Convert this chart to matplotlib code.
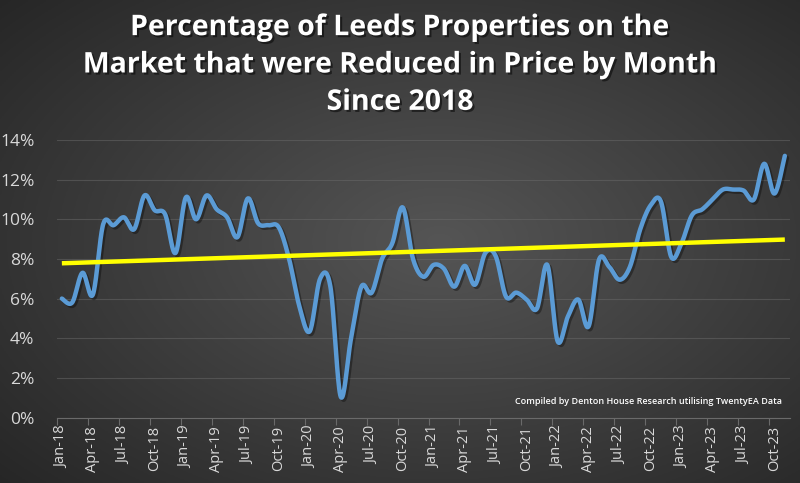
import numpy as np
import matplotlib
matplotlib.use("Agg")
import matplotlib.pyplot as plt
import matplotlib.patheffects as pe

# ---- data ----
years = ["18", "19", "20", "21", "22", "23"]
month_names = ["Jan", "Feb", "Mar", "Apr", "May", "Jun", "Jul", "Aug", "Sep", "Oct", "Nov", "Dec"]
categories = [f"{m}-{y}" for y in years for m in month_names][:71]  # Jan-18 .. Nov-23

reduced_pct = [
    6.0, 5.8, 7.3, 6.2, 9.75, 9.7, 10.1, 9.5, 11.2, 10.45, 10.25, 8.3,      # 2018
    11.1, 10.0, 11.2, 10.5, 10.1, 9.1, 11.05, 9.8, 9.7, 9.6, 8.0, 5.6,      # 2019
    4.35, 7.0, 6.6, 1.05, 4.0, 6.6, 6.3, 8.0, 8.8, 10.6, 8.0, 7.1,          # 2020
    7.7, 7.5, 6.6, 7.65, 6.7, 8.3, 8.15, 6.1, 6.3, 5.95, 5.5, 7.7,          # 2021
    3.85, 5.1, 5.95, 4.6, 7.95, 7.6, 6.95, 7.6, 9.5, 10.7, 10.9, 8.1,       # 2022
    8.8, 10.2, 10.5, 11.0, 11.5, 11.5, 11.45, 11.0, 12.8, 11.3, 13.2,       # 2023
]

y_ticks = [0, 2, 4, 6, 8, 10, 12, 14]
title = "Percentage of Leeds Properties on the\nMarket that were Reduced in Price by Month\nSince 2018"
source_note = "Compiled by Denton House Research utilising TwentyEA Data"


def smooth_curve(x, y, n=20):
    """Catmull-Rom style smoothing similar to Excel's smoothed line."""
    x = np.asarray(x, float)
    y = np.asarray(y, float)
    xs, ys = [], []
    for i in range(len(x) - 1):
        p0 = (x[i - 1], y[i - 1]) if i > 0 else (x[i], y[i])
        p1 = (x[i], y[i])
        p2 = (x[i + 1], y[i + 1])
        p3 = (x[i + 2], y[i + 2]) if i + 2 < len(x) else (x[i + 1], y[i + 1])
        c1 = (p1[0] + (p2[0] - p0[0]) / 6, p1[1] + (p2[1] - p0[1]) / 6)
        c2 = (p2[0] - (p3[0] - p1[0]) / 6, p2[1] - (p3[1] - p1[1]) / 6)
        t = np.linspace(0, 1, n, endpoint=False)
        b0 = (1 - t) ** 3
        b1 = 3 * (1 - t) ** 2 * t
        b2 = 3 * (1 - t) * t ** 2
        b3 = t ** 3
        xs.append(b0 * p1[0] + b1 * c1[0] + b2 * c2[0] + b3 * p2[0])
        ys.append(b0 * p1[1] + b1 * c1[1] + b2 * c2[1] + b3 * p2[1])
    xs.append([x[-1]])
    ys.append([y[-1]])
    return np.concatenate(xs), np.concatenate(ys)


W, H = 800, 483
fig = plt.figure(figsize=(W / 100, H / 100), dpi=100)

# background radial gradient
bg = fig.add_axes([0, 0, 1, 1], zorder=-10)
gx, gy = np.meshgrid(np.linspace(0, 1, 400), np.linspace(0, 1, 242))
r = np.sqrt(((gx - 0.55) / 0.75) ** 2 + ((gy - 0.5) / 0.75) ** 2)
r = np.clip(r, 0, 1)
inner = np.array([0x55, 0x55, 0x55]) / 255
outer = np.array([0x26, 0x26, 0x26]) / 255
img = inner[None, None, :] * (1 - r[..., None]) + outer[None, None, :] * r[..., None]
bg.imshow(img, extent=[0, 1, 0, 1], aspect="auto", origin="lower")
bg.axis("off")

left = 56.7 / W
right = 790 / W
bottom = 1 - 417.5 / H
top = 1 - 140 / H
ax = fig.add_axes([left, bottom, right - left, top - bottom])
ax.set_facecolor("none")

x = np.arange(len(reduced_pct))
sx, sy = smooth_curve(x, reduced_pct)
ax.plot(sx, sy, color="#5b9bd5", lw=3.2, solid_capstyle="round", zorder=3,
        path_effects=[pe.SimpleLineShadow(offset=(1.5, -1.5), alpha=0.35, shadow_color="black"), pe.Normal()])

# linear trendline
coef = np.polyfit(x, reduced_pct, 1)
ax.plot([x[0], x[-1]], np.polyval(coef, [x[0], x[-1]]), color="#ffff00", lw=3.2,
        solid_capstyle="butt", zorder=4)

ax.set_xlim(-0.5, len(x) - 0.5)
ax.set_ylim(0, 14)
ax.set_yticks(y_ticks)
ax.set_yticklabels([f"{v}%" for v in y_ticks], fontsize=12.5, color="#d9d9d9", family="Open Sans")
ax.grid(axis="y", color="#6a6a6a", lw=0.8, alpha=0.5)
ax.set_axisbelow(True)

label_pos = x[::3]
ax.set_xticks(label_pos)
ax.set_xticklabels([categories[i] for i in label_pos], rotation=90, fontsize=10.5,
                   color="#d9d9d9", family="Open Sans")
ax.set_xticks(np.arange(-0.5, len(x), 3), minor=True)
ax.tick_params(axis="x", which="major", length=0, pad=6)
ax.tick_params(axis="x", which="minor", length=5, color="#6a6a6a", width=0.8)
ax.tick_params(axis="y", length=0, pad=16)
for s in ["top", "right", "left"]:
    ax.spines[s].set_visible(False)
ax.spines["bottom"].set_color("#6a6a6a")
ax.spines["bottom"].set_linewidth(0.8)

for lbl in ax.get_yticklabels():
    lbl.set_horizontalalignment("right")

fig.text(0.5, 1 - 65 / H, title, ha="center", va="center", fontsize=20.5, fontweight="bold",
         color="white", family="Open Sans", linespacing=1.38,
         path_effects=[pe.withSimplePatchShadow(offset=(1.5, -1.5), alpha=0.5, shadow_rgbFace="black")])

fig.text(782 / W, 1 - 401 / H, source_note, ha="right", va="center", fontsize=6.5,
         color="white", family="Open Sans", fontweight="semibold")

fig.savefig("out.png", dpi=100)
